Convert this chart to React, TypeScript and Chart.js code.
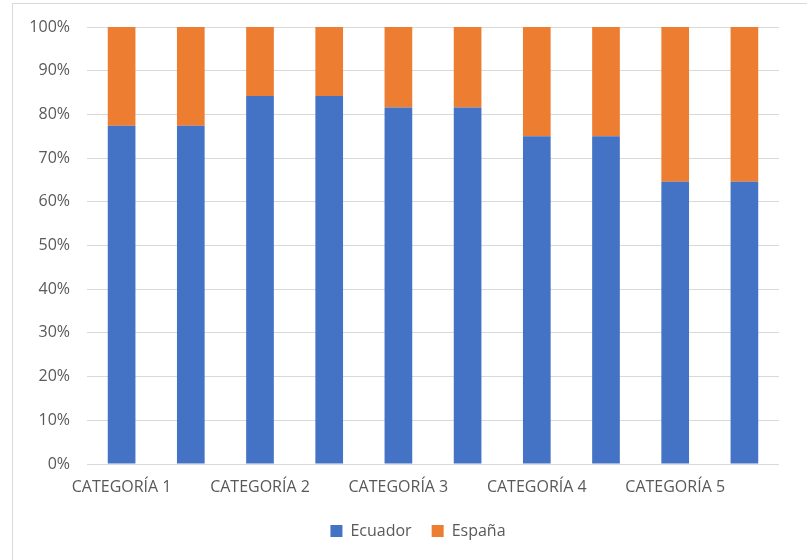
import React, { useEffect, useRef } from "react";
import { Chart, registerables } from "chart.js";

Chart.register(...registerables);

const categories = [
  "CATEGORÍA 1", "",
  "CATEGORÍA 2", "",
  "CATEGORÍA 3", "",
  "CATEGORÍA 4", "",
  "CATEGORÍA 5", "",
];
const ecuador = [77.4, 77.4, 84.2, 84.2, 81.6, 81.6, 75.0, 75.0, 64.6, 64.6];
const espana = [22.6, 22.6, 15.8, 15.8, 18.4, 18.4, 25.0, 25.0, 35.4, 35.4];
const yTicks = [0, 10, 20, 30, 40, 50, 60, 70, 80, 90, 100];

const FONT = "'Open Sans', 'Liberation Sans', sans-serif";
const TEXT = "#595959";
const GRID = "#d9d9d9";

export default function App() {
  const ref = useRef<HTMLCanvasElement | null>(null);

  useEffect(() => {
    if (!ref.current) return;
    const chart = new Chart(ref.current, {
      type: "bar",
      data: {
        labels: categories,
        datasets: [
          { label: "Ecuador", data: ecuador, backgroundColor: "#4472C4", borderWidth: 0 },
          { label: "España", data: espana, backgroundColor: "#ED7D31", borderWidth: 0 },
        ],
      },
      options: {
        responsive: false,
        animation: false,
        layout: { padding: { left: 12, right: 0, top: 27, bottom: 11 } },
        datasets: { bar: { categoryPercentage: 1, barPercentage: 0.4 } },
        plugins: {
          legend: {
            position: "bottom",
            labels: {
              boxWidth: 12,
              boxHeight: 12,
              padding: 20,
              color: TEXT,
              font: { family: FONT, size: 16 },
            },
          },
          tooltip: { enabled: false },
        },
        scales: {
          x: {
            stacked: true,
            grid: { display: false, drawTicks: false },
            border: { display: false },
            ticks: {
              autoSkip: false,
              maxRotation: 0,
              minRotation: 0,
              padding: 14,
              color: TEXT,
              font: { family: FONT, size: 16 },
            },
            afterFit: (s: any) => { s.height = 39; },
          },
          y: {
            stacked: true,
            min: 0,
            max: 100,
            afterBuildTicks: (s: any) => { s.ticks = yTicks.map((v) => ({ value: v })); },
            grid: { color: GRID, lineWidth: 1, drawTicks: false },
            border: { display: false },
            ticks: {
              padding: 17,
              color: TEXT,
              font: { family: FONT, size: 16 },
              callback: (v: any) => v + "%",
            },
            afterFit: (s: any) => { s.width = 75; },
          },
          yRight: {
            type: "linear",
            position: "right",
            display: true,
            grid: { display: false, drawTicks: false },
            border: { display: false },
            ticks: { display: false },
            afterFit: (s: any) => { s.width = 45; },
          },
        },
      } as any,
    });
    return () => chart.destroy();
  }, []);

  return (
    <div style={{ position: "absolute", left: 0, top: 0, width: 807, height: 560, overflow: "hidden", background: "#fff" }}>
      <div
        style={{
          position: "absolute",
          left: 12,
          top: 3,
          width: 900,
          height: 700,
          borderTop: "1px solid #d9d9d9",
          borderLeft: "1px solid #d9d9d9",
        }}
      />
      <canvas ref={ref} width={824} height={560} style={{ position: "absolute", left: 0, top: 0, width: 824, height: 560 }} />
    </div>
  );
}
